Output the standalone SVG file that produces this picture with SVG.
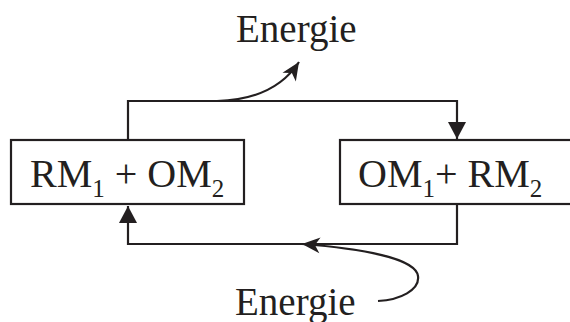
<svg xmlns="http://www.w3.org/2000/svg" width="570" height="322" viewBox="0 0 570 322">
<style>
.box{fill:#fff;stroke:#231f20;stroke-width:2.2}
.ln{fill:none;stroke:#231f20;stroke-width:2.2}
.t{font-family:"Liberation Serif","Times New Roman",serif;fill:#231f20}
.lbl{font-size:40px}
.en{font-size:39px}
.sub{font-size:25px}
</style>
<defs>
<marker id="st" markerUnits="userSpaceOnUse" markerWidth="24" markerHeight="20" viewBox="-20 -10 24 20" refX="0" refY="0" orient="auto">
<path d="M0,0 L-18,-8 L-13,0 L-18,8 Z" fill="#231f20"/>
</marker>
<marker id="tri" markerUnits="userSpaceOnUse" markerWidth="20" markerHeight="20" viewBox="-18 -10 20 20" refX="0" refY="0" orient="auto">
<path d="M0,0 L-17,-9 L-17,9 Z" fill="#231f20"/>
</marker>
</defs>
<g id="connectors">
<path class="ln" d="M128,140 V101 H457 V139" marker-end="url(#tri)"/>
<path class="ln" d="M457,204 V244 H128 V206" marker-end="url(#tri)"/>
<path class="ln" d="M217,101 C255,100 282,88 299,62" marker-end="url(#st)"/>
<path class="ln" d="M378,301 C400,300 420,290 418,276 C416,262 380,250 302,244" marker-end="url(#st)"/>
</g>
<g id="node1">
<rect class="box" x="11" y="140" width="233" height="64"/>
<text class="t lbl" x="30" y="187">RM<tspan class="sub" dy="10">1</tspan><tspan dy="-10"> + OM</tspan><tspan class="sub" dy="10">2</tspan></text>
</g>
<g id="node2">
<rect class="box" x="340" y="140" width="240" height="64"/>
<text class="t lbl" x="358" y="187">OM<tspan class="sub" dy="10">1</tspan><tspan dy="-10">+ RM</tspan><tspan class="sub" dy="10">2</tspan></text>
</g>
<g id="energie-out">
<text class="t en" x="236" y="42">Energie</text>
</g>
<g id="energie-in">
<text class="t en" x="235" y="315">Energie</text>
</g>
</svg>
